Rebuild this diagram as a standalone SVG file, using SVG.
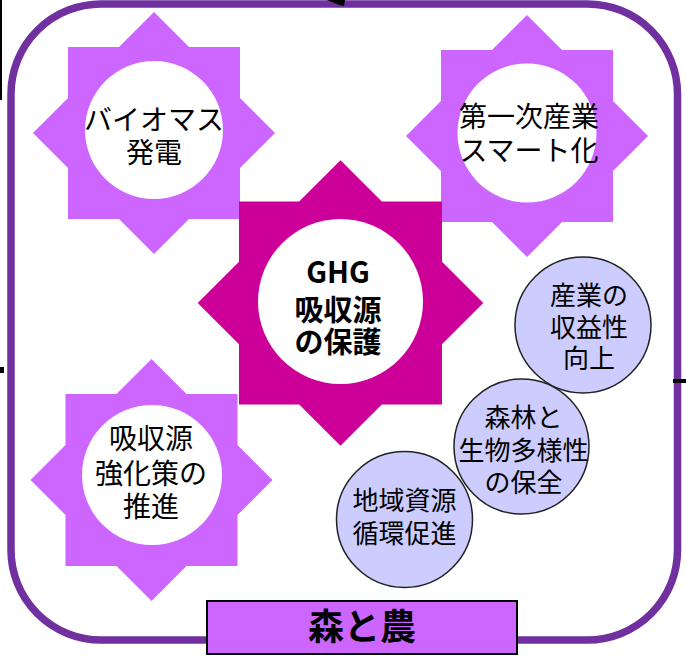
<svg xmlns="http://www.w3.org/2000/svg" xmlns:xlink="http://www.w3.org/1999/xlink" width="686" height="656" viewBox="0 0 686 656">
<style>
.frame{fill:none;stroke:#7030A0;stroke-width:7.5}
.star{fill:#CC66FF}
.star-main{fill:#CC0099}
.hole{fill:#FFFFFF}
.bubble{fill:#CCCCFF;stroke:#222222;stroke-width:1.5}
.t{font-family:"Noto Sans CJK JP","Noto Sans",sans-serif;fill:#000000;text-anchor:middle}
.t28{font-size:28px}
.t26{font-size:26px}
.tb{font-size:29px;font-weight:bold}
.lbl{fill:#CC66FF;stroke:#000000;stroke-width:2}
.tl{font-size:36px;font-weight:bold}
.mark{fill:#000000}
</style>
<defs>
<path id="star8" d="M0,-121 L35,-86 L86,-86 L86,-35 L121,0 L86,35 L86,86 L35,86 L0,121 L-35,86 L-86,86 L-86,35 L-121,0 L-86,-35 L-86,-86 L-35,-86 Z"/>
</defs>
<rect width="686" height="656" fill="#FFFFFF"/>
<g id="frame">
<rect class="frame" x="11" y="4" width="666.5" height="636" rx="90" ry="90"/>
</g>
<g id="connectors">
<rect class="mark" x="0" y="0" width="2" height="100"/>
<rect class="mark" x="0" y="367" width="4" height="6"/>
<rect class="mark" x="673" y="379" width="13" height="4"/>
<polygon class="mark" points="327,0 345,0 344,6 339,5"/>
</g>
<g id="node-biomass">
<use xlink:href="#star8" class="star" transform="translate(154,133)"/>
<circle class="hole" cx="154" cy="130" r="69"/>
<text class="t t28"><tspan x="154" y="130">バイオマス</tspan><tspan x="154" y="163">発電</tspan></text>
</g>
<g id="node-smart">
<use xlink:href="#star8" class="star" transform="translate(527,136)"/>
<circle class="hole" cx="527" cy="133" r="69.5"/>
<text class="t t28"><tspan x="529" y="127">第一次産業</tspan><tspan x="529" y="161">スマート化</tspan></text>
</g>
<g id="node-ghg">
<use xlink:href="#star8" class="star-main" transform="translate(340.5,303) scale(1.18)"/>
<circle class="hole" cx="340.5" cy="301.5" r="82.5"/>
<text class="t tb"><tspan x="338" y="283">GHG</tspan><tspan x="338" y="321">吸収源</tspan><tspan x="338" y="353">の保護</tspan></text>
</g>
<g id="node-kyushu">
<use xlink:href="#star8" class="star" transform="translate(151.5,480)"/>
<circle class="hole" cx="152" cy="475" r="70"/>
<text class="t t28"><tspan x="151" y="448.5">吸収源</tspan><tspan x="151" y="483.5">強化策の</tspan><tspan x="151" y="516.5">推進</tspan></text>
</g>
<g id="node-chiiki">
<circle class="bubble" cx="404.5" cy="519.5" r="68"/>
<text class="t t26"><tspan x="404.5" y="510">地域資源</tspan><tspan x="404.5" y="543">循環促進</tspan></text>
</g>
<g id="node-shinrin">
<circle class="bubble" cx="521.5" cy="446.5" r="67.5"/>
<text class="t t26"><tspan x="523.5" y="427">森林と</tspan><tspan x="523.5" y="460">生物多様性</tspan><tspan x="523.5" y="492">の保全</tspan></text>
</g>
<g id="node-sangyo">
<circle class="bubble" cx="583" cy="325" r="68"/>
<text class="t t26"><tspan x="589" y="305">産業の</tspan><tspan x="589" y="337">収益性</tspan><tspan x="589" y="368">向上</tspan></text>
</g>
<g id="label-mori">
<rect class="lbl" x="207" y="601" width="310" height="53"/>
<text class="t tl" x="362" y="640">森と農</text>
</g>
</svg>
